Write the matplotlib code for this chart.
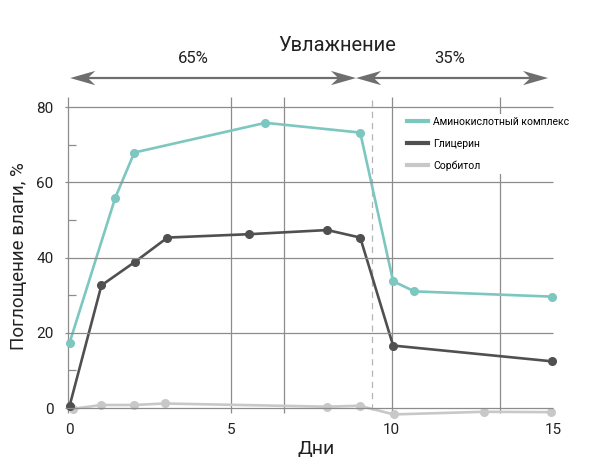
import matplotlib.pyplot as plt
from matplotlib.patches import Polygon

plt.rcParams['font.family'] = ['Roboto', 'DejaVu Sans']

# данные
amino_x = [0, 1.42, 2.01, 6.08, 9.02, 10.04, 10.7, 14.98]
amino_y = [17.3, 55.9, 67.9, 75.8, 73.2, 33.7, 31.0, 29.6]

glyc_x = [0, 0.99, 2.04, 3.04, 5.58, 8.0, 9.02, 10.04, 14.98]
glyc_y = [0.5, 32.6, 38.9, 45.3, 46.2, 47.3, 45.3, 16.6, 12.4]

sorb_x = [0.12, 0.98, 2.0, 2.95, 8.0, 9.0, 10.06, 12.87, 14.95]
sorb_y = [-0.2, 0.8, 0.8, 1.2, 0.35, 0.6, -1.7, -1.0, -1.1]

labels = ['Аминокислотный комплекс', 'Глицерин', 'Сорбитол']
colors = ['#7cc7bf', '#505050', '#c8c8c8']

xticks = [0, 5, 10, 15]
yticks = [0, 20, 40, 60, 80]
yminor = [10, 30, 50, 70]
vgrid = [5, 6.65, 10, 13.35]
switch_day = 9.4

fig = plt.figure(figsize=(6.1, 4.58), dpi=100)
ax = fig.add_axes([0.1034, 0.0845, 0.8295, 0.7147])
ax.set_xlim(-0.2, 15.5)
ax.set_ylim(-3, 84)
for s in ax.spines.values():
    s.set_visible(False)

grid_c = '#8c8c8c'
ax.hlines(yticks, -0.15, 15.0, color=grid_c, lw=0.9, zorder=6)
ax.vlines(vgrid, -1.3, 82.7, color=grid_c, lw=0.9, zorder=1)
ax.vlines(-0.05, -1.3, 82.7, color=grid_c, lw=0.9, zorder=1)
ax.hlines(yminor, -0.05, 0.2, color=grid_c, lw=0.9, zorder=1)
ax.vlines(switch_day, -0.5, 82.7, color='#b5b5b5', lw=0.9,
          linestyles=(0, (5, 4)), zorder=1)

ax.plot(amino_x, amino_y, color=colors[0], lw=1.9, marker='o', ms=5.5,
        label=labels[0], zorder=4, clip_on=False)
ax.plot(glyc_x, glyc_y, color=colors[1], lw=1.9, marker='o', ms=5.5,
        label=labels[1], zorder=3, clip_on=False)
ax.plot(sorb_x, sorb_y, color=colors[2], lw=1.9, marker='o', ms=5.5,
        label=labels[2], zorder=2, clip_on=False)

ax.set_xticks(xticks)
ax.set_xticklabels([str(t) for t in xticks])
ax.set_yticks(yticks)
ax.set_yticklabels([str(t) for t in yticks])
ax.tick_params(axis='both', length=0, labelsize=11, colors='#222222')
ax.tick_params(axis='x', pad=3)
ax.tick_params(axis='y', pad=7)

ax.set_ylabel('Поглощение влаги, %', fontsize=13.5, color='#222222', labelpad=6)
ax.set_xlabel('Дни', fontsize=14, color='#222222', labelpad=2)

# стрелки влажности
arrow_c = '#6e6e6e'
arr_y = 87.7
head_len = 0.78   # по x, в днях
head_notch = 0.55
head_half = 1.9   # по y, в %


def head(tip, direction):
    # direction = -1 стрелка влево, +1 вправо
    back = tip - direction * head_len
    notch = tip - direction * head_notch
    pts = [(tip, arr_y), (back, arr_y + head_half), (notch, arr_y),
           (back, arr_y - head_half)]
    ax.add_patch(Polygon(pts, closed=True, color=arrow_c, lw=0,
                         clip_on=False, zorder=5))


for a, b in [(0.02, 8.89), (8.89, 14.85)]:
    ax.plot([a + 0.4, b - 0.4], [arr_y, arr_y], color=arrow_c, lw=1.6,
            clip_on=False, solid_capstyle='butt')
    head(a, -1)
    head(b, 1)

ax.text(3.83, 93, '65%', ha='center', va='center', fontsize=12, color='#222222')
ax.text(11.8, 93, '35%', ha='center', va='center', fontsize=12, color='#222222')
ax.text(8.3, 96.3, 'Увлажнение', ha='center', va='center', fontsize=14.5,
        color='#222222')

leg = ax.legend(loc='upper left', bbox_to_anchor=(404 / 610, 1 - 114 / 458),
                bbox_transform=fig.transFigure, fontsize=7.5, frameon=True,
                handlelength=2.0, handletextpad=0.5, labelspacing=1.1,
                borderpad=0.3, borderaxespad=0)
leg.get_frame().set_facecolor('white')
leg.get_frame().set_edgecolor('none')
leg.get_frame().set_alpha(1)
for h in leg.get_lines():
    h.set_marker('')
    h.set_linewidth(3)

fig.savefig('out.png', dpi=100)
